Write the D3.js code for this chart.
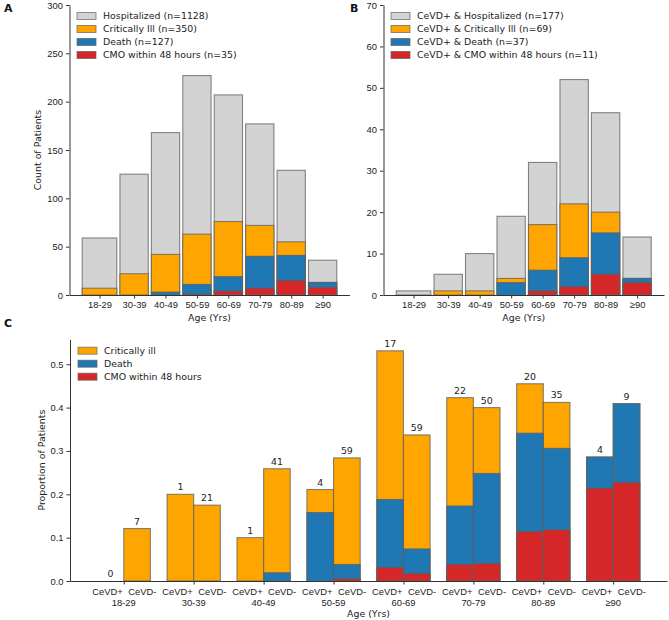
<!DOCTYPE html>
<html>
<head>
<meta charset="utf-8">
<script src="https://cdn.jsdelivr.net/npm/d3@7"></script>
<style>
  body { margin: 0; background: #fff; }
  svg { display: block; font-family: "DejaVu Sans", sans-serif; }
  .axis path, .axis line { stroke: #333; stroke-width: 1; }
  .axis text { fill: #222; font-size: 9.4px; }
</style>
</head>
<body>
<div id="container"></div>
<script>
// age bins shared by the three panels
const ageGroups = ["18-29", "30-39", "40-49", "50-59", "60-69", "70-79", "80-89", "≥90"];

// panel A, all patients (counts)
const allHosp = [59, 125, 168, 227, 207, 177, 129, 36];
const allCrit = [7, 22, 42, 63, 76, 72, 55, 13];
const allDeath = [0, 0, 3, 11, 19, 40, 41, 13];
const allCmo = [0, 0, 0, 1, 4, 7, 15, 8];
const allLegend = ["Hospitalized (n=1128)", "Critically Ill (n=350)", "Death (n=127)", "CMO within 48 hours (n=35)"];
const allTicks = [0, 50, 100, 150, 200, 250, 300];

// panel B, CeVD+ patients (counts)
const cevdHosp = [1, 5, 10, 19, 32, 52, 44, 14];
const cevdCrit = [0, 1, 1, 4, 17, 22, 20, 4];
const cevdDeath = [0, 0, 0, 3, 6, 9, 15, 4];
const cevdCmo = [0, 0, 0, 0, 1, 2, 5, 3];
const cevdLegend = ["CeVD+ & Hospitalized (n=177)", "CeVD+ & Critically Ill (n=69)", "CeVD+ & Death (n=37)", "CeVD+ & CMO within 48 hours (n=11)"];
const cevdTicks = [0, 10, 20, 30, 40, 50, 60, 70];

// panel C, proportions of hospitalized, CeVD+ next to CeVD-
const posCrit = [0, 0.2, 0.1, 0.211, 0.531, 0.423, 0.455, 0.286];
const posDeath = [0, 0, 0, 0.158, 0.188, 0.173, 0.341, 0.286];
const posCmo = [0, 0, 0, 0, 0.031, 0.038, 0.114, 0.214];
const negCrit = [0.121, 0.175, 0.259, 0.284, 0.337, 0.4, 0.412, 0.409];
const negDeath = [0, 0, 0.019, 0.038, 0.074, 0.248, 0.306, 0.409];
const negCmo = [0, 0, 0, 0.005, 0.017, 0.04, 0.118, 0.227];
const posCount = [0, 1, 1, 4, 17, 22, 20, 4];
const negCount = [7, 21, 41, 59, 59, 50, 35, 9];
const groupNames = ["CeVD+", "CeVD-"];
const propLegend = ["Critically ill", "Death", "CMO within 48 hours"];
const propTicks = [0, 0.1, 0.2, 0.3, 0.4, 0.5];

// colours, grey then orange blue red like the original
const COLORS = ["#d3d3d3", "#ffa500", "#1f77b4", "#d62728"];
const EDGE = "#5f5f5f";
const FS = "9.4px";

const W = 669, H = 620;
const svg = d3.select("#container").append("svg").attr("width", W).attr("height", H);

// turns "18-29" into [18, 29], the open one gets a 10 year bin
function ageSpan(label) {
  if (label.startsWith("≥")) {
    const lo = +label.slice(1);
    return [lo, lo + 9];
  }
  return label.split("-").map(Number);
}

function styleAxis(g) {
  g.attr("class", "axis");
  g.selectAll(".tick line").attr("stroke", "#333");
}

function drawBar(g, x0, x1, y, v, color) {
  g.append("rect")
    .attr("x", x0)
    .attr("y", y(v))
    .attr("width", x1 - x0)
    .attr("height", y(0) - y(v))
    .attr("fill", color)
    .attr("stroke", EDGE)
    .attr("stroke-opacity", 0.75)
    .attr("stroke-width", 1.1);
}

function drawLegend(g, x, y0, labels, colors) {
  labels.forEach(function (t, i) {
    const cy = y0 + i * 13;
    g.append("rect").attr("x", x).attr("y", cy - 3.5).attr("width", 19).attr("height", 7)
      .attr("fill", colors[i]).attr("stroke", EDGE).attr("stroke-opacity", 0.75).attr("stroke-width", 0.9);
    g.append("text").attr("x", x + 26).attr("y", cy).attr("dy", "0.35em")
      .attr("font-size", FS).attr("fill", "#222").text(t);
  });
}

// panels A and B are the same kind of chart, overlaid bars from zero
function drawCounts(opts) {
  const g = svg.append("g");
  const spans = ageGroups.map(ageSpan);
  const lo = d3.min(spans, d => d[0]), hi = d3.max(spans, d => d[1]);
  const pad = (hi - lo) * 0.05;
  const x = d3.scaleLinear().domain([lo - pad, hi + pad]).range([opts.left, opts.right]);
  const y = d3.scaleLinear().domain([0, opts.ymax]).range([opts.bottom, opts.top]);

  [opts.hosp, opts.crit, opts.death, opts.cmo].forEach(function (series, s) {
    series.forEach(function (v, i) {
      drawBar(g, x(spans[i][0]), x(spans[i][1]), y, v, COLORS[s]);
    });
  });

  g.append("g").attr("transform", "translate(" + opts.left + ",0)")
    .call(d3.axisLeft(y).tickValues(opts.ticks).tickSize(3.5).tickPadding(3).tickSizeOuter(0))
    .call(styleAxis);

  g.append("g").attr("transform", "translate(0," + opts.bottom + ")")
    .call(d3.axisBottom(x)
      .tickValues(spans.map(d => (d[0] + d[1]) / 2))
      .tickFormat((d, i) => ageGroups[i])
      .tickSize(3.5).tickPadding(3).tickSizeOuter(0))
    .call(styleAxis);

  g.append("text").attr("x", (opts.left + opts.right) / 2).attr("y", opts.bottom + 25.5)
    .attr("text-anchor", "middle").attr("font-size", FS).attr("fill", "#222").text("Age (Yrs)");

  if (opts.ylabel) {
    g.append("text")
      .attr("transform", "translate(" + (opts.left - 32) + "," + (opts.top + opts.bottom) / 2 + ") rotate(-90)")
      .attr("text-anchor", "middle").attr("dy", "0.35em")
      .attr("font-size", FS).attr("fill", "#222").text(opts.ylabel);
  }

  drawLegend(g, opts.left + 7.5, 16, opts.legend, COLORS);

  g.append("text").attr("x", opts.letterX).attr("y", 11.5)
    .attr("font-size", "11px").attr("font-weight", "bold").attr("fill", "#111").text(opts.letter);
}

drawCounts({
  letter: "A", letterX: 4, left: 69.5, right: 349.5, top: 5, bottom: 295, ymax: 300,
  hosp: allHosp, crit: allCrit, death: allDeath, cmo: allCmo,
  ticks: allTicks, legend: allLegend, ylabel: "Count of Patients"
});

drawCounts({
  letter: "B", letterX: 350, left: 383.5, right: 664, top: 5, bottom: 295, ymax: 70,
  hosp: cevdHosp, crit: cevdCrit, death: cevdDeath, cmo: cevdCmo,
  ticks: cevdTicks, legend: cevdLegend, ylabel: null
});

// panel C, two bars per age bin
(function () {
  const g = svg.append("g");
  const left = 70, right = 667, top = 339.3, bottom = 581;
  const step = 1.05, bw = 0.4;
  const first = -bw, last = (ageGroups.length - 1) * step + bw;
  const pad = (last - first) * 0.05;
  const x = d3.scaleLinear().domain([first - pad, last + pad]).range([left, right]);
  const ymax = d3.max(posCrit.concat(negCrit)) * 1.05;
  const y = d3.scaleLinear().domain([0, ymax]).range([bottom, top]);

  const pos = [posCrit, posDeath, posCmo];
  const neg = [negCrit, negDeath, negCmo];
  const cols = COLORS.slice(1);

  ageGroups.forEach(function (a, i) {
    const c = i * step;
    for (let s = 0; s < 3; s++) {
      drawBar(g, x(c - bw), x(c), y, pos[s][i], cols[s]);
      drawBar(g, x(c), x(c + bw), y, neg[s][i], cols[s]);
    }
    g.append("text").attr("x", x(c - bw / 2)).attr("y", y(posCrit[i]) - 4)
      .attr("text-anchor", "middle").attr("font-size", FS).attr("fill", "#222").text(posCount[i]);
    g.append("text").attr("x", x(c + bw / 2)).attr("y", y(negCrit[i]) - 4)
      .attr("text-anchor", "middle").attr("font-size", FS).attr("fill", "#222").text(negCount[i]);
  });

  g.append("g").attr("transform", "translate(" + left + ",0)")
    .call(d3.axisLeft(y).tickValues(propTicks).tickFormat(d3.format(".1f")).tickSize(3.5).tickPadding(3).tickSizeOuter(0))
    .call(styleAxis);

  const xa = g.append("g").attr("transform", "translate(0," + bottom + ")")
    .call(d3.axisBottom(x).tickValues(ageGroups.map((a, i) => i * step)).tickFormat("").tickSize(3.5).tickSizeOuter(0))
    .call(styleAxis);

  // two line tick labels: small CeVD+ / CeVD- either side of the tick, then the age bin
  ageGroups.forEach(function (a, i) {
    const cx = x(i * step);
    xa.append("text").attr("x", cx - 1).attr("y", 14).attr("text-anchor", "end")
      .attr("font-size", "7px").attr("fill", "#222").text(groupNames[0]);
    xa.append("text").attr("x", cx + 4.5).attr("y", 14).attr("text-anchor", "start")
      .attr("font-size", "7px").attr("fill", "#222").text(groupNames[1]);
    xa.append("text").attr("x", cx).attr("y", 24.5).attr("text-anchor", "middle")
      .attr("font-size", FS).attr("fill", "#222").text(a);
  });

  g.append("text").attr("x", (left + right) / 2).attr("y", bottom + 36)
    .attr("text-anchor", "middle").attr("font-size", FS).attr("fill", "#222").text("Age (Yrs)");

  g.append("text")
    .attr("transform", "translate(" + (left - 28.5) + "," + (top + bottom) / 2 + ") rotate(-90)")
    .attr("text-anchor", "middle").attr("dy", "0.35em")
    .attr("font-size", FS).attr("fill", "#222").text("Proportion of Patients");

  drawLegend(g, left + 8, 350.7, propLegend, cols);

  g.append("text").attr("x", 4).attr("y", 327)
    .attr("font-size", "11px").attr("font-weight", "bold").attr("fill", "#111").text("C");
})();
</script>
</body>
</html>
